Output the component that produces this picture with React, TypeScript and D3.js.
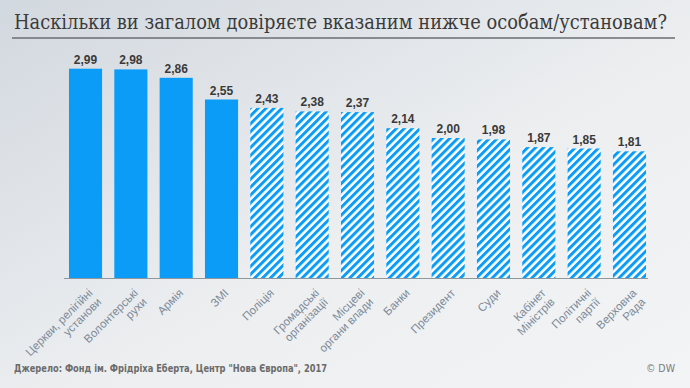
import { useEffect, useRef } from "react";
import * as d3 from "d3";

// data
const categories = [
    ["Церкви, релігійні", "установи"],
    ["Волонтерські", "рухи"],
    ["Армія"],
    ["ЗМІ"],
    ["Поліція"],
    ["Громадські", "організації"],
    ["Місцеві", "органи влади"],
    ["Банки"],
    ["Президент"],
    ["Суди"],
    ["Кабінет", "Міністрів"],
    ["Політичні", "партії"],
    ["Верховна", "Рада"],
];
const values = [2.99, 2.98, 2.86, 2.55, 2.43, 2.38, 2.37, 2.14, 2.0, 1.98, 1.87, 1.85, 1.81];
const kinds = ["solid", "solid", "solid", "solid", "hatch", "hatch", "hatch", "hatch", "hatch", "hatch", "hatch", "hatch", "hatch"];
const yDomain = [0, 3];

const title = "Наскільки ви загалом довіряєте вказаним нижче особам/установам?";
const source = "Джерело: Фонд ім. Фрідріха Еберта, Центр \"Нова Європа\", 2017";
const credit = "© DW";

const W = 690;
const H = 388;
const BLUE = "#0a9cf6";

export default function App() {
    const ref = useRef<SVGSVGElement>(null);

    useEffect(() => {
        const svg = d3.select(ref.current);
        svg.selectAll("*").remove();

        const defs = svg.append("defs");

        // background gradient
        const bg = defs.append("linearGradient")
            .attr("id", "bg")
            .attr("x1", 0).attr("y1", 0)
            .attr("x2", 1).attr("y2", 1);
        bg.append("stop").attr("offset", "0%").attr("stop-color", "#d2d8df");
        bg.append("stop").attr("offset", "55%").attr("stop-color", "#eceef0");
        bg.append("stop").attr("offset", "100%").attr("stop-color", "#f3f4f5");

        // diagonal hatch
        const pat = defs.append("pattern")
            .attr("id", "hatch")
            .attr("patternUnits", "userSpaceOnUse")
            .attr("width", 5.6)
            .attr("height", 5.6)
            .attr("patternTransform", "rotate(45)");
        pat.append("rect").attr("width", 5.6).attr("height", 5.6).attr("fill", "#ffffff");
        pat.append("rect").attr("width", 3).attr("height", 5.6).attr("fill", BLUE);

        svg.append("rect").attr("width", W).attr("height", H).attr("fill", "url(#bg)");

        // title + rule
        svg.append("text")
            .attr("x", 14)
            .attr("y", 29)
            .style("font-family", "\"DejaVu Serif\", \"Liberation Serif\", serif")
            .style("font-size", "20px")
            .attr("fill", "#3b3b3b")
            .attr("textLength", 653)
            .attr("lengthAdjust", "spacingAndGlyphs")
            .text(title);

        svg.append("line")
            .attr("x1", 12).attr("x2", 675)
            .attr("y1", 38).attr("y2", 38)
            .attr("stroke", "#6a6c70")
            .attr("stroke-width", 1.6);

        // scales
        const x = d3.scaleBand<number>()
            .domain(d3.range(values.length))
            .range([64, 651])
            .paddingInner(0.27)
            .paddingOuter(0.11);

        const y = d3.scaleLinear()
            .domain(yDomain)
            .range([278, 68]);

        // bars
        svg.append("g")
            .selectAll("rect")
            .data(values)
            .enter().append("rect")
            .attr("x", (d, i) => x(i)!)
            .attr("y", d => y(d))
            .attr("width", x.bandwidth())
            .attr("height", d => y(0) - y(d))
            .attr("fill", (d, i) => kinds[i] === "solid" ? BLUE : "url(#hatch)");

        // value labels
        svg.append("g")
            .selectAll("text")
            .data(values)
            .enter().append("text")
            .attr("x", (d, i) => x(i)! + x.bandwidth() / 2)
            .attr("y", d => y(d) - 5)
            .attr("text-anchor", "middle")
            .style("font-family", "\"Liberation Sans\", Arial, sans-serif")
            .style("font-weight", "bold")
            .style("font-size", "12px")
            .attr("fill", "#3a3a3a")
            .text(d => d3.format(".2f")(d).replace(".", ","));

        // baseline
        svg.append("line")
            .attr("x1", 64).attr("x2", 648)
            .attr("y1", y(0) + 0.5).attr("y2", y(0) + 0.5)
            .attr("stroke", "#8e969e")
            .attr("stroke-width", 1);

        // category labels, rotated
        const lab = svg.append("g")
            .selectAll("text")
            .data(categories)
            .enter().append("text")
            .attr("transform", (d, i) => {
                const cx = x(i)! + x.bandwidth() / 2;
                return `translate(${cx + 2}, ${288}) rotate(-45)`;
            })
            .attr("text-anchor", "end")
            .style("font-family", "\"Liberation Sans\", Arial, sans-serif")
            .style("font-size", "11.5px")
            .attr("fill", "#7c8a99");

        lab.selectAll("tspan")
            .data(d => d)
            .enter().append("tspan")
            .attr("x", 0)
            .attr("dy", (d, j) => j === 0 ? "0.7em" : "1.1em")
            .text(d => d);

        // footer
        svg.append("text")
            .attr("x", 14)
            .attr("y", 372)
            .style("font-family", "\"Liberation Sans Narrow\", \"DejaVu Sans Condensed\", sans-serif")
            .style("font-weight", "bold")
            .style("font-size", "10.5px")
            .attr("fill", "#6b6b6b")
            .attr("textLength", 313)
            .attr("lengthAdjust", "spacingAndGlyphs")
            .text(source);

        svg.append("text")
            .attr("x", 675)
            .attr("y", 372)
            .attr("text-anchor", "end")
            .style("font-family", "\"Liberation Sans Narrow\", \"DejaVu Sans Condensed\", sans-serif")
            .style("font-size", "10.5px")
            .attr("fill", "#7a7a7a")
            .text(credit);
    }, []);

    return (
        <svg
            ref={ref}
            width={W}
            height={H}
            style={{ position: "absolute", left: 0, top: 0, display: "block" }}
        ></svg>
    );
}
